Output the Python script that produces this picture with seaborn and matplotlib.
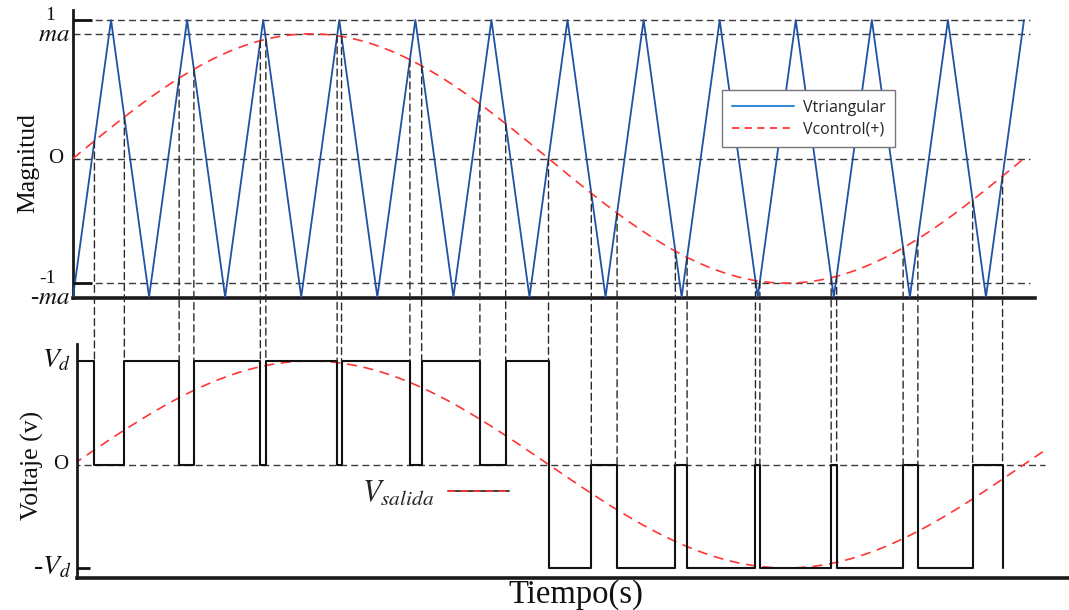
import numpy as np
import matplotlib
matplotlib.use("Agg")
import matplotlib.pyplot as plt
import seaborn as sns
from matplotlib.lines import Line2D
from matplotlib.patches import ConnectionPatch
from matplotlib.legend_handler import HandlerTuple

# ---------------- data ----------------
# triangular carrier vertices (time in fractions of the control period)
carrier_t = [0.00, 0.04, 0.08, 0.12, 0.16, 0.20, 0.24, 0.28, 0.32, 0.36,
             0.40, 0.44, 0.48, 0.52, 0.56, 0.60, 0.64, 0.68, 0.72, 0.76,
             0.80, 0.84, 0.88, 0.92, 0.96, 1.00]
carrier_v = [-1, 1, -1, 1, -1, 1, -1, 1, -1, 1,
             -1, 1, -1, 1, -1, 1, -1, 1, -1, 1,
             -1, 1, -1, 1, -1, 1]
ma = 0.9            # modulation index (control amplitude)
Vd = 1.0            # dc voltage
top_ref_levels = [1.0, 0.9, 0.0, -0.9]
top_tick_vals = [1.0, 0.9, 0.0, -0.9, -1.0]
top_tick_labels = ["1", "$ma$", "O", "-1", "-$ma$"]
bot_tick_vals = [1.0, 0.0, -1.0]
bot_tick_labels = ["$V_d$", "O", "-$V_d$"]
legend_labels = ["Vtriangular", "Vcontrol(+)"]
out_label = "$V_{salida}$"

# control signal (one period on top, a little more below)
ctrl_t = np.linspace(0.0, 1.0, 800)
ctrl_v = ma * np.sin(2 * np.pi * ctrl_t)
ctrl2_t = np.linspace(0.0, 1.025, 800)
ctrl2_v = Vd * np.sin(2 * np.pi * ctrl2_t)

# ---------------- derived: crossings and output ----------------
fine = np.linspace(0.0, 1.0, 400000)
d = ma * np.sin(2 * np.pi * fine) - np.interp(fine, carrier_t, carrier_v)
idx = np.where(d[:-1] * d[1:] < 0)[0]
edges = fine[idx] - d[idx] * (fine[idx + 1] - fine[idx]) / (d[idx + 1] - d[idx])


def level(t):
    c = ma * np.sin(2 * np.pi * t)
    tr = np.interp(t, carrier_t, carrier_v)
    if t < 0.5:
        return Vd if c > tr else 0.0
    return -Vd if tr > c else 0.0


sq_x = [0.0]
sq_y = [level(edges[0] / 2)]
for i, e in enumerate(edges):
    nxt_e = edges[i + 1] if i + 1 < len(edges) else e + 0.01
    prev = sq_y[-1]
    sq_x += [e, e]
    sq_y += [prev, level((e + nxt_e) / 2)]

# ---------------- figure ----------------
sns.set_style("white")
plt.rcParams["font.family"] = ["Liberation Serif", "DejaVu Serif"]
plt.rcParams["mathtext.fontset"] = "stix"

W, H = 1069, 610
fig = plt.figure(figsize=(W / 100, H / 100), dpi=100)
ax1 = fig.add_axes([73 / W, 1 - 298 / H, (1035 - 73) / W, (298 - 10) / H])
ax2 = fig.add_axes([77 / W, 1 - 578 / H, (1069 - 77) / W, (578 - 344) / H])

px = 951.0  # pixels per time unit
ax1.set_xlim(0, (1035 - 73) / px)
ax1.set_ylim(-1 - 1 / 138.5, 1 + 10 / 138.5)
ax2.set_xlim((77 - 73) / px, (1069 - 73) / px)
ax2.set_ylim((464.5 - 578) / 103.5, (464.5 - 344) / 103.5)

blue = "#1f52a3"
red = "#ff3535"
dash_col = "#2a2a2a"

# top panel
for lv in top_ref_levels:
    ax1.plot([0, 1.006], [lv, lv], color="#3a3a3a", lw=1.0,
             linestyle=(0, (5, 3)), zorder=1)
sns.lineplot(x=carrier_t, y=carrier_v, ax=ax1, color=blue, lw=1.3,
             estimator=None, sort=False, zorder=3)
sns.lineplot(x=ctrl_t, y=ctrl_v, ax=ax1, color=red, lw=1.2,
             linestyle=(0, (6, 4)), estimator=None, sort=False, zorder=4)
for lv in [top_tick_vals[0], top_tick_vals[3]]:
    ax1.plot([0, 0.02], [lv, lv], color="#111111", lw=2.0, zorder=5,
             solid_capstyle="butt")

# bottom panel
ax2.plot([0, 1.022], [0, 0], color="#3a3a3a", lw=1.0,
         linestyle=(0, (5, 3)), zorder=1)
sns.lineplot(x=ctrl2_t, y=ctrl2_v, ax=ax2, color=red, lw=1.2,
             linestyle=(0, (6, 4)), estimator=None, sort=False, zorder=2)
sns.lineplot(x=sq_x, y=sq_y, ax=ax2, color="#111111", lw=1.5,
             estimator=None, sort=False, zorder=3)
ax2.plot([0, 0.018], [bot_tick_vals[2]] * 2, color="#111111", lw=2.0,
         zorder=5, solid_capstyle="butt")

# vertical projection lines
for e in edges:
    ytop = float(np.interp(e, carrier_t, carrier_v))
    lv = Vd if e <= 0.5 + 1e-6 else 0.0
    con = ConnectionPatch(xyA=(e, ytop), coordsA=ax1.transData,
                          xyB=(e, lv), coordsB=ax2.transData,
                          color=dash_col, lw=1.0, linestyle=(0, (5, 3)),
                          zorder=1)
    fig.add_artist(con)

# spines / ticks
for ax in [ax1, ax2]:
    ax.set_xticks([])
    ax.set_yticks([])
    ax.set_xlabel("")
    ax.set_ylabel("")
    for s in ["top", "right"]:
        ax.spines[s].set_visible(False)
    ax.spines["left"].set_linewidth(2.0)
    ax.spines["bottom"].set_linewidth(2.6)
    ax.spines["left"].set_color("#1a1a1a")
    ax.spines["bottom"].set_color("#1a1a1a")
    ax.patch.set_alpha(0)

# tick labels (manual placement)
ytr1 = ax1.get_yaxis_transform()
top_right_px = [55, 70, 63, 56, 70]
top_sizes = [14, 18, 15, 14, 18]
top_dy = [0.03, -0.005, 0.0, 0.03, -0.005]
for v, lab, rpx, fs, dy in zip(top_tick_vals, top_tick_labels, top_right_px,
                               top_sizes, top_dy):
    ax1.text((rpx - 73) / 962, v + dy, lab, transform=ytr1, ha="right",
             va="center", fontsize=fs, color="#111111")
ytr2 = ax2.get_yaxis_transform()
bot_right_px = [71, 68, 71]
bot_sizes = [20, 15, 20]
for v, lab, rpx, fs in zip(bot_tick_vals, bot_tick_labels, bot_right_px, bot_sizes):
    ax2.text((rpx - 77) / 992, v, lab, transform=ytr2, ha="right",
             va="center", fontsize=fs, color="#111111")

# axis titles
fig.text(28 / W, 1 - 163 / H, "Magnitud", rotation=90, ha="center",
         va="center", fontsize=18.5, color="#111111")
fig.text(32 / W, 1 - 465 / H, "Voltaje (v)", rotation=90, ha="center",
         va="center", fontsize=18.5, color="#111111")
fig.text(576 / W, 1 - 595 / H, "Tiempo(s)", ha="center", va="center",
         fontsize=23.5, color="#111111")

# legend (top)
h1 = Line2D([], [], color="#3b8bd4", lw=1.5)
h2 = Line2D([], [], color=red, lw=1.3, linestyle=(0, (4, 3)))
leg = ax1.legend([h1, h2], legend_labels, loc="upper left",
                 bbox_to_anchor=(722 / W, 1 - 90 / H),
                 bbox_transform=fig.transFigure, borderaxespad=0,
                 prop={"family": "Open Sans", "size": 11.5},
                 handlelength=3.9, handletextpad=0.55, labelspacing=0.35,
                 borderpad=0.6, fancybox=False, framealpha=1)
leg.get_frame().set_edgecolor("#777777")
leg.get_frame().set_linewidth(1.0)

# legend (bottom output)
o1 = Line2D([], [], color="#333333", lw=1.3)
o2 = Line2D([], [], color=red, lw=1.3, linestyle=(0, (4, 3)))
ax2.legend([(o1, o2)], [out_label], handler_map={tuple: HandlerTuple(ndivide=1)},
           loc="center left", bbox_to_anchor=(356 / W, 1 - 494 / H),
           bbox_transform=fig.transFigure, borderaxespad=0, borderpad=0.2,
           markerfirst=False, frameon=False, prop={"size": 22},
           handlelength=2.0, handletextpad=0.45)

fig.savefig("out.png", dpi=100)
